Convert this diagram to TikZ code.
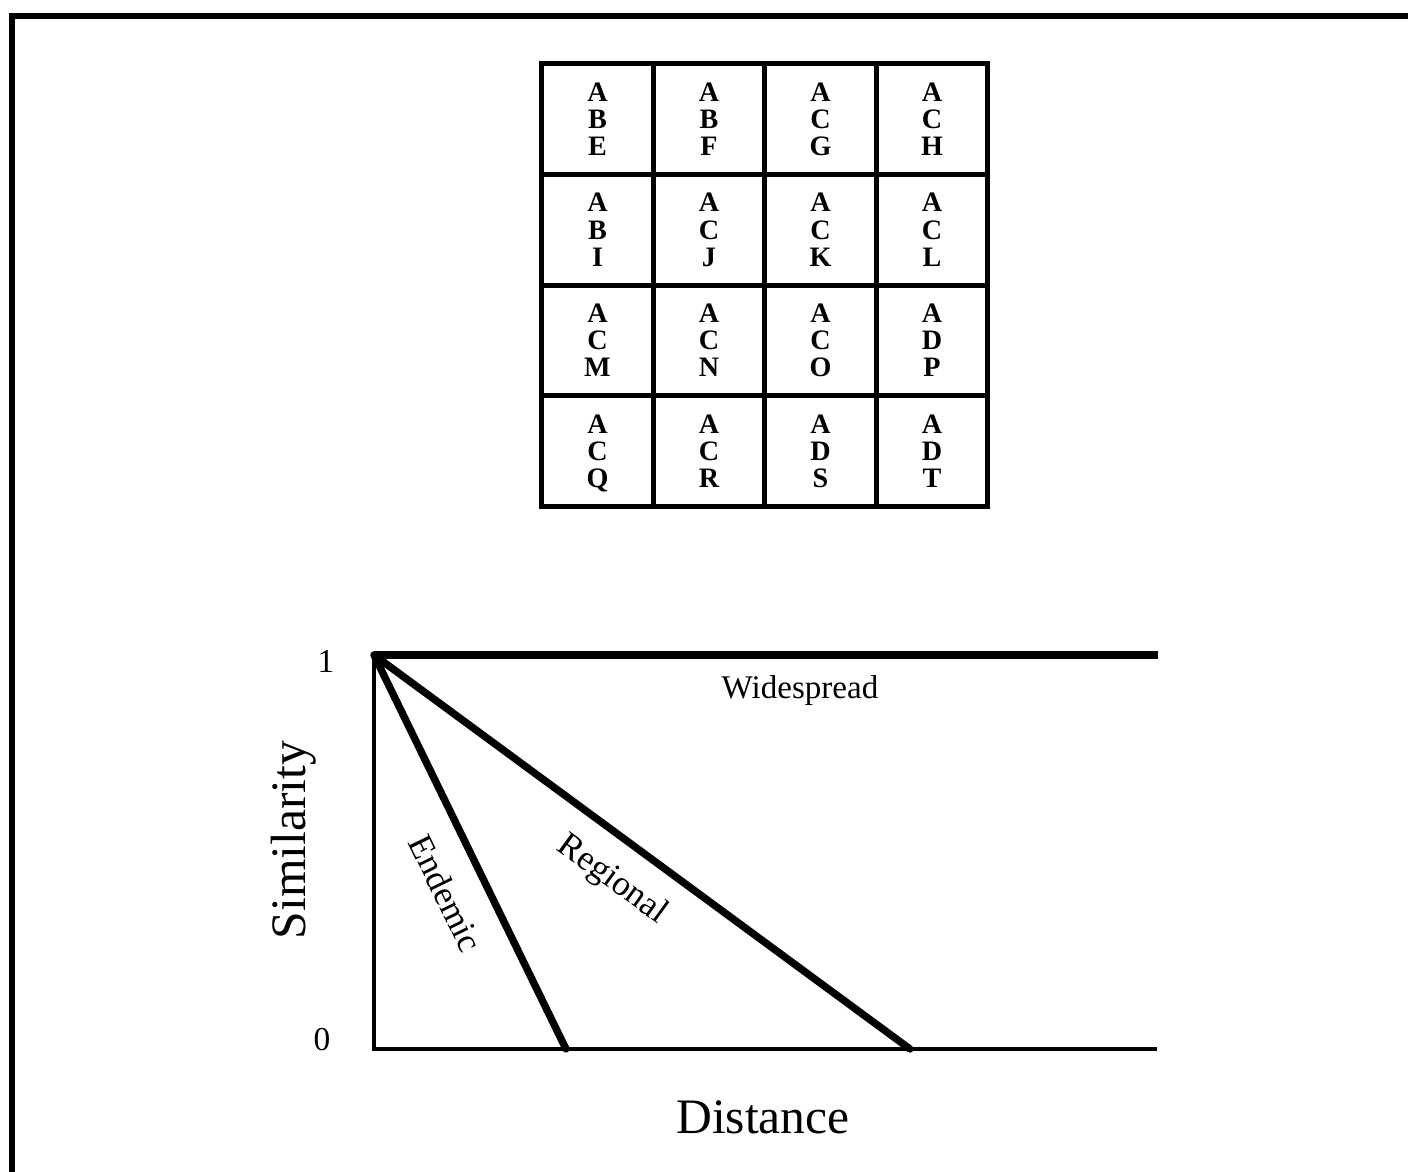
\documentclass[tikz,border=0pt]{standalone}
\usepackage{fontspec}
\setmainfont{Liberation Serif}
\usetikzlibrary{positioning}
\tikzset{frame/.style={draw=black, line width=1.5pt}}

\begin{document}
\begin{tikzpicture}[x=0.01cm, y=-0.01cm,
      cell/.style={draw, line width=1.4pt, minimum width=1.115cm, minimum height=1.107cm,
        inner sep=0pt, align=center, font=\fontsize{8}{7.7}\selectfont\bfseries},
      axis/.style={line width=1.3pt}, curve/.style={line width=2.1pt},
      lbl/.style={font=\fontsize{10}{12}\selectfont, inner sep=0pt},
      big/.style={font=\fontsize{14.1}{16}\selectfont, inner sep=0pt}]
    \useasboundingbox (0,0) rectangle (1408,1172);
    \draw[frame] (12,1200) -- (12,16) -- (1430,16);
    % the sixteen cells
    \foreach \a/\b/\c [count=\i from 0] in {A/B/E, A/B/F, A/C/G, A/C/H, A/B/I, A/C/J, A/C/K, A/C/L,
        A/C/M, A/C/N, A/C/O, A/D/P, A/C/Q, A/C/R, A/D/S, A/D/T}{%
      \pgfmathtruncatemacro{\col}{mod(\i,4)}
      \pgfmathtruncatemacro{\row}{div(\i,4)}
      \node[cell] (cell\i) at ({597.5+111.5*\col},{119+110.75*\row})
        {\a\\\b\\\raisebox{0pt}[\height][0pt]{\c}};}
    % the graph
    \coordinate (orig) at (374,1049);  \coordinate (one) at (374,655);
    \coordinate (wide) at (1158,655);  \coordinate (xend) at (1157,1049);
    \coordinate (endo) at (566,1049);  \coordinate (rego) at (910,1049);
    \draw[axis] (one) -- (orig) -- (xend);
    \draw[curve, line width=2.4pt] (one) -- (wide);
    \draw[curve, line cap=round] (one) -- (endo) (one) -- (rego);
    \node[lbl, font=\fontsize{9.4}{12}\selectfont] (wlab) at (800,691) {Widespread};
    \node[lbl, rotate=-64] (elab) at (446,893) {Endemic};
    \node[lbl, rotate=-36] (rlab) at (612,880) {Regional};
    \node[lbl, font=\fontsize{9.5}{12}\selectfont] (ylab1) at (326,661) {1};
    \node[lbl, font=\fontsize{9.5}{12}\selectfont] (ylab0) at (322,1040) {0};
    \node[big, rotate=90] (ytitle) at (294,840) {Similarity};
    \node[big] (xtitle) at (763,1117) {Distance};
  \end{tikzpicture}
\end{document}
